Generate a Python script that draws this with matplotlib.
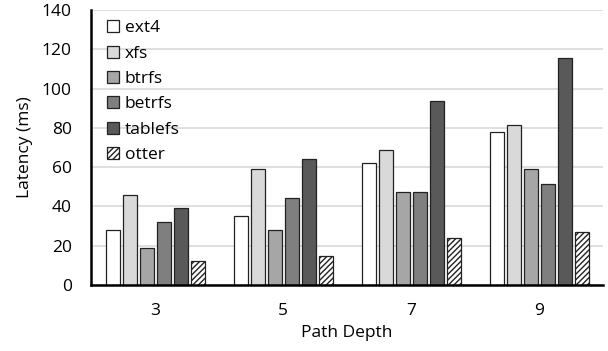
import matplotlib
matplotlib.use('Agg')
import matplotlib.pyplot as plt
import numpy as np

plt.rcParams['font.family'] = ['Open Sans', 'DejaVu Sans']
plt.rcParams['hatch.linewidth'] = 1.0

depths = ['3', '5', '7', '9']
systems = ['ext4', 'xfs', 'btrfs', 'betrfs', 'tablefs', 'otter']
ext4 = [28, 35, 62, 78]
xfs = [46, 59, 69, 81.5]
btrfs = [19, 28, 47.5, 59]
betrfs = [32, 44.5, 47.5, 51.5]
tablefs = [39, 64, 93.5, 115.5]
otter = [12, 15, 24, 27]
series = [ext4, xfs, btrfs, betrfs, tablefs, otter]

colors = ['#ffffff', '#d9d9d9', '#a6a6a6', '#7f7f7f', '#595959', '#ffffff']
hatches = [None, None, None, None, None, '//////']
fs = 12.5

fig = plt.figure(figsize=(6.08, 3.51), dpi=100)
ax = fig.add_axes([0.15, 0.188, 0.842, 0.783])

x = np.arange(len(depths))
step = 0.133
width = 0.109
for i, vals in enumerate(series):
    ax.bar(x + (i - 2.5) * step, vals, width=width, color=colors[i],
           edgecolor='#222222', linewidth=0.9, hatch=hatches[i],
           label=systems[i], zorder=3)

ax.set_xlim(-0.5, 3.5)
ax.set_ylim(0, 140)
ax.set_yticks(range(0, 141, 20))
ax.set_xticks(x)
ax.set_xticklabels(depths)
ax.grid(axis='y', color='#d9d9d9', linewidth=1.2, zorder=0)
ax.tick_params(axis='both', length=0, labelsize=fs)
ax.tick_params(axis='x', pad=13)
ax.tick_params(axis='y', pad=14)
for s in ['top', 'right']:
    ax.spines[s].set_visible(False)
ax.spines['left'].set_linewidth(1.8)
ax.spines['bottom'].set_linewidth(1.8)
ax.spines['left'].set_zorder(4)
ax.spines['bottom'].set_zorder(4)

ax.set_xlabel('Path Depth', fontsize=fs, labelpad=4)
ax.set_ylabel('Latency (ms)', fontsize=fs, labelpad=6)

ax.legend(loc='upper left', frameon=False, fontsize=fs,
          handlelength=0.69, handleheight=0.69, handletextpad=0.35,
          labelspacing=0.53, borderaxespad=0.5,
          bbox_to_anchor=(0.0, 1.02))

fig.savefig('out.png', dpi=100)
